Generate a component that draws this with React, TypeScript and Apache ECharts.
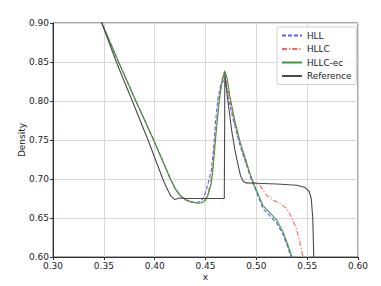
import React, { useEffect, useRef } from "react";
import * as echarts from "echarts";

const xTicks = [0.3, 0.35, 0.4, 0.45, 0.5, 0.55, 0.6];
const yTicks = [0.6, 0.65, 0.7, 0.75, 0.8, 0.85, 0.9];

const hll: number[][] = [
  [0.345, 0.91], [0.348, 0.9], [0.3645, 0.85], [0.3815, 0.8], [0.399, 0.75], [0.4155, 0.7],
  [0.42, 0.688], [0.425, 0.679], [0.43, 0.6735], [0.435, 0.6707], [0.44, 0.6698], [0.443, 0.6705],
  [0.446, 0.672], [0.449, 0.679], [0.451, 0.687], [0.4535, 0.699], [0.4557, 0.7115], [0.458, 0.74],
  [0.46, 0.7756], [0.4625, 0.805], [0.465, 0.821], [0.4675, 0.826], [0.47, 0.82], [0.473, 0.8],
  [0.4775, 0.775], [0.4835, 0.745], [0.488, 0.727], [0.4925, 0.709], [0.4967, 0.694], [0.5, 0.684],
  [0.5065, 0.662], [0.5131, 0.653], [0.5197, 0.644], [0.5262, 0.629], [0.5311, 0.612], [0.535, 0.596],
  [0.537, 0.585],
];

const hllc: number[][] = [
  [0.345, 0.91], [0.348, 0.9], [0.3645, 0.85], [0.3815, 0.8], [0.399, 0.75], [0.4155, 0.7],
  [0.42, 0.688], [0.425, 0.679], [0.43, 0.6733], [0.435, 0.6708], [0.44, 0.6695], [0.444, 0.6692],
  [0.4475, 0.671], [0.45, 0.6745], [0.452, 0.68], [0.454, 0.69], [0.4555, 0.7], [0.457, 0.715],
  [0.46, 0.76], [0.463, 0.797], [0.4655, 0.82], [0.468, 0.832], [0.4705, 0.826], [0.4735, 0.804],
  [0.478, 0.776], [0.4843, 0.745], [0.4885, 0.728], [0.4925, 0.711], [0.4967, 0.6965], [0.5033, 0.6923],
  [0.5098, 0.6795], [0.5163, 0.673], [0.523, 0.6688], [0.5295, 0.6624], [0.5344, 0.6517], [0.5393, 0.6368],
  [0.5426, 0.6197], [0.5458, 0.6004], [0.547, 0.59],
];

const hllcEc: number[][] = [
  [0.345, 0.91], [0.348, 0.9], [0.3645, 0.85], [0.3815, 0.8], [0.399, 0.75], [0.4155, 0.7],
  [0.42, 0.688], [0.425, 0.679], [0.43, 0.6738], [0.435, 0.6712], [0.44, 0.6695], [0.4443, 0.669],
  [0.448, 0.6705], [0.4505, 0.674], [0.4525, 0.6795], [0.4545, 0.689], [0.4557, 0.6945], [0.4573, 0.7115],
  [0.4605, 0.76], [0.4635, 0.8], [0.4665, 0.828], [0.4688, 0.8385], [0.4712, 0.83], [0.474, 0.806],
  [0.4787, 0.7756], [0.4843, 0.746], [0.4885, 0.729], [0.4925, 0.712], [0.4967, 0.696], [0.5, 0.686],
  [0.5065, 0.666], [0.5131, 0.657], [0.5197, 0.648], [0.5262, 0.6325], [0.5311, 0.6154], [0.536, 0.596],
  [0.538, 0.585],
];

const reference: number[][] = [
  [0.345, 0.91], [0.348, 0.9], [0.3623, 0.85], [0.378, 0.8], [0.3935, 0.75], [0.408, 0.7],
  [0.412, 0.688], [0.416, 0.678], [0.4197, 0.6738], [0.4246, 0.6756], [0.43, 0.6752], [0.44, 0.675],
  [0.455, 0.675], [0.4685, 0.6752], [0.4688, 0.76], [0.469, 0.836], [0.472, 0.8], [0.476, 0.76],
  [0.479, 0.737], [0.482, 0.718], [0.4845, 0.704], [0.487, 0.697], [0.49, 0.695], [0.5, 0.6945],
  [0.52, 0.6935], [0.54, 0.692], [0.548, 0.689], [0.552, 0.684], [0.554, 0.675], [0.5555, 0.65],
  [0.5565, 0.6], [0.557, 0.58],
];

const FONT = "DejaVu Sans";

export default function App() {
  const ref = useRef<HTMLDivElement>(null);
  useEffect(() => {
    document.body.style.margin = "0";
    if (!ref.current) return;
    const chart = echarts.init(ref.current, undefined, { renderer: "svg" });
    const mk = (name: string, data: number[][], color: string, type: any, width = 1.1) => ({
      name,
      type: "line",
      data,
      showSymbol: false,
      symbol: "none",
      clip: true,
      lineStyle: { color, width, type },
      itemStyle: { color },
    });
    const axisCommon = {
      axisLine: { show: true, lineStyle: { color: "#333" } },
      axisTick: { show: true, length: 3, lineStyle: { color: "#333" } },
      axisLabel: {
        fontSize: 9,
        color: "#222",
        fontFamily: FONT,
        margin: 4,
        formatter: (v: number) => v.toFixed(2),
      },
      splitLine: { show: true, lineStyle: { color: "#d8d8d8", width: 1 } },
    };
    chart.setOption({
      animation: false,
      textStyle: { fontFamily: FONT },
      grid: {
        left: 53,
        right: 23,
        top: 23,
        bottom: 29,
        show: true,
        borderColor: "#555",
        borderWidth: 1,
        backgroundColor: "transparent",
      },
      xAxis: {
        type: "value",
        min: 0.3,
        max: 0.6,
        interval: 0.05,
        name: "x",
        nameLocation: "middle",
        nameGap: 15,
        nameMoveOverlap: false,
        nameTextStyle: { fontSize: 9, color: "#222", fontFamily: FONT },
        ...axisCommon,
      },
      yAxis: {
        type: "value",
        min: 0.6,
        max: 0.9,
        interval: 0.05,
        name: "Density",
        nameLocation: "middle",
        nameGap: 27,
        nameRotate: 90,
        nameMoveOverlap: false,
        nameTextStyle: { fontSize: 9, color: "#222", fontFamily: FONT },
        ...axisCommon,
      },
      legend: {
        orient: "vertical",
        left: 277,
        top: 27,
        padding: [4, 5, 4, 4],
        itemGap: 4.5,
        itemWidth: 20,
        itemHeight: 8,
        borderColor: "#d0d0d0",
        borderWidth: 1,
        borderRadius: 2,
        backgroundColor: "rgba(255,255,255,0.8)",
        itemStyle: { opacity: 0 },
        textStyle: { fontSize: 8.8, color: "#222", fontFamily: FONT },
        data: ["HLL", "HLLC", "HLLC-ec", "Reference"],
      },
      series: [
        mk("HLL", hll, "#5a5aff", [4, 2]),
        mk("HLLC", hllc, "#ff6060", [5, 2, 1.2, 2]),
        mk("HLLC-ec", hllcEc, "#3a9a3a", "solid"),
        mk("Reference", reference, "#4a4a4a", "solid"),
      ],
    });
    return () => chart.dispose();
  }, []);
  return <div ref={ref} style={{ width: 381, height: 286 }} />;
}
